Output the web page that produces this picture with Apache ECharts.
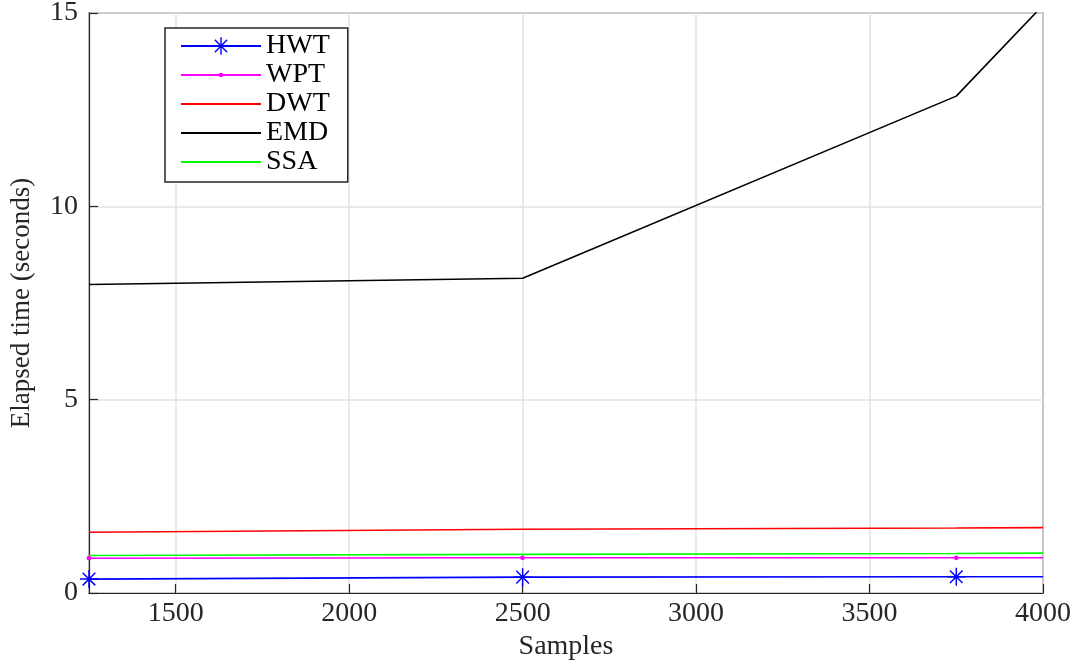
<!DOCTYPE html>
<html>
<head>
<meta charset="utf-8">
<script src="https://cdn.jsdelivr.net/npm/echarts@6/dist/echarts.min.js"></script>
<style>
  html, body { margin: 0; padding: 0; background: #fff; }
  #chart { width: 1084px; height: 663px; }
</style>
</head>
<body>
<div id="chart"></div>
<script>
// samples on the x axis
const samples = [1250, 2500, 3750, 4000];
// elapsed time in seconds
const hwt = [0.36, 0.41, 0.42, 0.42];
const wpt = [0.90, 0.91, 0.91, 0.91];
const dwt = [1.57, 1.65, 1.68, 1.69];
const emd = [7.98, 8.14, 12.85, 15.2];
const ssa = [0.97, 1.00, 1.02, 1.03];
// which points carry a marker
const markerIdx = [0, 1, 2];
const yTicks = [0, 5, 10, 15];

const axisColor = '#262626';
const fontFamily = 'Liberation Serif';

// MATLAB-like '*' marker
const asterisk = 'path://M46 0L54 0L54 100L46 100Z M0 46L100 46L100 54L0 54Z '
  + 'M17.83 12.17L87.83 82.17L82.17 87.83L12.17 17.83Z '
  + 'M82.17 12.17L87.83 17.83L17.83 87.83L12.17 82.17Z';
// small dot inside a bigger box so it stays small in the legend
const dot = 'path://M0 0L0 0 M100 100L100 100 M37 50A13 13 0 1 1 63 50A13 13 0 1 1 37 50Z';
// nothing drawn: keeps the legend to a plain line
const noMark = 'path://M0 0L0 0 M100 100L100 100';

function pairs(vals) {
  return samples.map((x, i) => [x, vals[i]]);
}

function withMarkers(vals) {
  return samples.map((x, i) => ({
    value: [x, vals[i]],
    symbol: markerIdx.indexOf(i) >= 0 ? undefined : 'none',
  }));
}

const chart = echarts.init(document.getElementById('chart'));
const option = {
  animation: false,
  textStyle: { fontFamily: fontFamily },
  grid: {
    left: 89,
    right: 41,
    top: 13,
    bottom: 70,
    outerBoundsMode: 'none',
    show: true,
    borderColor: axisColor,
    borderWidth: 1.2,
    backgroundColor: 'transparent',
  },
  legend: {
    orient: 'vertical',
    left: 165,
    top: 28,
    itemWidth: 80,
    itemHeight: 22,
    itemGap: 1,
    padding: [4, 18, 6, 15],
    backgroundColor: '#fff',
    borderColor: axisColor,
    borderWidth: 1.5,
    textStyle: { fontFamily: fontFamily, fontSize: 28, color: '#000' },
    data: ['HWT', 'WPT', 'DWT', 'EMD', 'SSA'],
  },
  xAxis: {
    type: 'value',
    min: 1250,
    max: 4000,
    splitNumber: 5,
    name: 'Samples',
    nameLocation: 'middle',
    nameGap: 37,
    nameTextStyle: { fontFamily: fontFamily, fontSize: 28, color: axisColor },
    axisLine: { show: true, onZero: false, lineStyle: { color: axisColor, width: 1.2 } },
    axisTick: { show: true, inside: true, length: 9, lineStyle: { color: axisColor, width: 1.2 } },
    axisLabel: {
      fontFamily: fontFamily,
      fontSize: 28,
      color: axisColor,
      margin: 7,
      showMinLabel: false,
      formatter: (v) => String(v),
    },
    splitLine: { show: true, lineStyle: { color: '#e2e2e2', width: 1.5 } },
  },
  yAxis: {
    type: 'value',
    min: yTicks[0],
    max: yTicks[yTicks.length - 1],
    interval: yTicks[1] - yTicks[0],
    name: 'Elapsed time (seconds)',
    nameLocation: 'middle',
    nameGap: 54,
    nameTextStyle: { fontFamily: fontFamily, fontSize: 27, color: axisColor },
    axisLine: { show: true, lineStyle: { color: axisColor, width: 1.2 } },
    axisTick: { show: true, inside: true, length: 9, lineStyle: { color: axisColor, width: 1.2 } },
    axisLabel: { fontFamily: fontFamily, fontSize: 28, color: axisColor, margin: 11 },
    splitLine: { show: true, lineStyle: { color: '#e2e2e2', width: 1.5 } },
  },
  series: [
    {
      name: 'HWT',
      type: 'line',
      data: withMarkers(hwt),
      symbol: asterisk,
      symbolSize: 18,
      color: '#0000ff',
      itemStyle: { color: '#0000ff', borderWidth: 0 },
      lineStyle: { color: '#0000ff', width: 1.6 },
      z: 5,
    },
    {
      name: 'WPT',
      type: 'line',
      data: withMarkers(wpt),
      symbol: dot,
      symbolSize: 18,
      color: '#ff00ff',
      itemStyle: { color: '#ff00ff', borderWidth: 0 },
      lineStyle: { color: '#ff00ff', width: 1.6 },
      z: 4,
    },
    {
      name: 'DWT',
      type: 'line',
      data: pairs(dwt),
      symbol: noMark,
      color: '#ff0000',
      itemStyle: { borderWidth: 0 },
      lineStyle: { color: '#ff0000', width: 1.6 },
    },
    {
      name: 'EMD',
      type: 'line',
      data: pairs(emd),
      symbol: noMark,
      clip: true,
      color: '#000000',
      itemStyle: { borderWidth: 0 },
      lineStyle: { color: '#000000', width: 1.6 },
    },
    {
      name: 'SSA',
      type: 'line',
      data: pairs(ssa),
      symbol: noMark,
      color: '#00ff00',
      itemStyle: { borderWidth: 0 },
      lineStyle: { color: '#00ff00', width: 1.6 },
    },
  ],
};
chart.setOption(option);
</script>
</body>
</html>
